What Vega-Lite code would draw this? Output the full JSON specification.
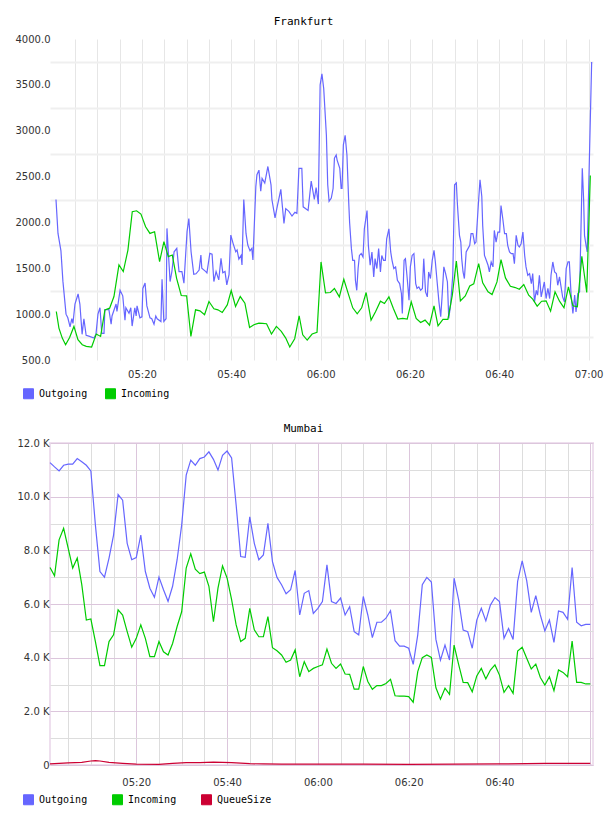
{
  "$schema": "https://vega.github.io/schema/vega-lite/v6.json",
  "background": "white",
  "padding": {"left": 15, "top": 16, "right": 5, "bottom": 5},
  "config": {
    "view": {"stroke": null},
    "axis": {"labelFont": "DejaVu Sans", "labelFontSize": 10, "labelColor": "#333333", "ticks": false, "tickSize": 0, "domain": false, "labelOverlap": false, "labelFlush": false, "labelBound": false},
    "legend": {"orient": "none", "direction": "horizontal", "symbolType": "square", "symbolSize": 100, "labelFont": "DejaVu Sans Mono", "labelFontSize": 10, "labelColor": "#000000", "labelOffset": 5, "padding": 0},
    "title": {"font": "DejaVu Sans Mono", "fontSize": 11, "fontWeight": "normal", "color": "#000000", "anchor": "middle", "frame": "group", "baseline": "alphabetic"}
  },
  "datasets": {
    "frankfurt": [
      {"min":0.75,"series":"Outgoing","value":2250},{"min":1.2,"series":"Outgoing","value":1880},{"min":1.86,"series":"Outgoing","value":1690},{"min":2.3,"series":"Outgoing","value":1360},{"min":3.0,"series":"Outgoing","value":1000},{"min":3.4,"series":"Outgoing","value":960},{"min":3.9,"series":"Outgoing","value":860},{"min":4.3,"series":"Outgoing","value":950},{"min":4.55,"series":"Outgoing","value":900},{"min":5.0,"series":"Outgoing","value":1110},{"min":5.7,"series":"Outgoing","value":1220},{"min":6.1,"series":"Outgoing","value":1110},{"min":6.6,"series":"Outgoing","value":780},{"min":7.0,"series":"Outgoing","value":950},{"min":7.5,"series":"Outgoing","value":770},{"min":8.1,"series":"Outgoing","value":760},{"min":9.25,"series":"Outgoing","value":740},{"min":9.7,"series":"Outgoing","value":780},{"min":10.15,"series":"Outgoing","value":1000},{"min":10.6,"series":"Outgoing","value":1070},{"min":11.0,"series":"Outgoing","value":790},{"min":11.5,"series":"Outgoing","value":790},{"min":11.7,"series":"Outgoing","value":1050},{"min":12.6,"series":"Outgoing","value":1050},{"min":13.1,"series":"Outgoing","value":890},{"min":13.3,"series":"Outgoing","value":980},{"min":14.2,"series":"Outgoing","value":1110},{"min":14.4,"series":"Outgoing","value":1030},{"min":15.1,"series":"Outgoing","value":1260},{"min":15.7,"series":"Outgoing","value":1200},{"min":16.2,"series":"Outgoing","value":935},{"min":16.4,"series":"Outgoing","value":1070},{"min":17.1,"series":"Outgoing","value":1010},{"min":17.5,"series":"Outgoing","value":1070},{"min":17.8,"series":"Outgoing","value":870},{"min":18.4,"series":"Outgoing","value":1070},{"min":18.7,"series":"Outgoing","value":980},{"min":18.9,"series":"Outgoing","value":1090},{"min":19.55,"series":"Outgoing","value":960},{"min":20.0,"series":"Outgoing","value":970},{"min":20.2,"series":"Outgoing","value":1280},{"min":20.7,"series":"Outgoing","value":1340},{"min":21.1,"series":"Outgoing","value":1090},{"min":21.8,"series":"Outgoing","value":960},{"min":22.2,"series":"Outgoing","value":950},{"min":22.7,"series":"Outgoing","value":890},{"min":23.1,"series":"Outgoing","value":980},{"min":23.4,"series":"Outgoing","value":950},{"min":24.25,"series":"Outgoing","value":920},{"min":24.5,"series":"Outgoing","value":1380},{"min":24.9,"series":"Outgoing","value":920},{"min":25.4,"series":"Outgoing","value":950},{"min":25.6,"series":"Outgoing","value":1935},{"min":26.3,"series":"Outgoing","value":1355},{"min":26.7,"series":"Outgoing","value":1464},{"min":27.2,"series":"Outgoing","value":1680},{"min":27.8,"series":"Outgoing","value":1717},{"min":28.3,"series":"Outgoing","value":1464},{"min":28.95,"series":"Outgoing","value":1464},{"min":29.4,"series":"Outgoing","value":1337},{"min":30.1,"series":"Outgoing","value":1900},{"min":30.5,"series":"Outgoing","value":2043},{"min":31.0,"series":"Outgoing","value":1680},{"min":31.6,"series":"Outgoing","value":1435},{"min":32.1,"series":"Outgoing","value":1440},{"min":32.8,"series":"Outgoing","value":1480},{"min":33.2,"series":"Outgoing","value":1645},{"min":33.4,"series":"Outgoing","value":1500},{"min":34.3,"series":"Outgoing","value":1464},{"min":34.55,"series":"Outgoing","value":1450},{"min":35.2,"series":"Outgoing","value":1663},{"min":35.7,"series":"Outgoing","value":1655},{"min":36.1,"series":"Outgoing","value":1355},{"min":36.6,"series":"Outgoing","value":1464},{"min":37.2,"series":"Outgoing","value":1373},{"min":37.7,"series":"Outgoing","value":1609},{"min":38.1,"series":"Outgoing","value":1450},{"min":38.6,"series":"Outgoing","value":1464},{"min":39.0,"series":"Outgoing","value":1319},{"min":39.5,"series":"Outgoing","value":1430},{"min":39.9,"series":"Outgoing","value":1862},{"min":40.4,"series":"Outgoing","value":1772},{"min":41.0,"series":"Outgoing","value":1680},{"min":41.3,"series":"Outgoing","value":1700},{"min":41.7,"series":"Outgoing","value":1600},{"min":42.2,"series":"Outgoing","value":1640},{"min":42.4,"series":"Outgoing","value":1536},{"min":42.8,"series":"Outgoing","value":2250},{"min":43.3,"series":"Outgoing","value":1880},{"min":43.7,"series":"Outgoing","value":1754},{"min":44.2,"series":"Outgoing","value":1690},{"min":44.6,"series":"Outgoing","value":1717},{"min":44.85,"series":"Outgoing","value":1590},{"min":45.5,"series":"Outgoing","value":2390},{"min":45.75,"series":"Outgoing","value":2520},{"min":46.2,"series":"Outgoing","value":2570},{"min":46.6,"series":"Outgoing","value":2340},{"min":46.9,"series":"Outgoing","value":2480},{"min":47.5,"series":"Outgoing","value":2430},{"min":48.0,"series":"Outgoing","value":2560},{"min":48.2,"series":"Outgoing","value":2610},{"min":48.9,"series":"Outgoing","value":2410},{"min":49.1,"series":"Outgoing","value":2250},{"min":49.8,"series":"Outgoing","value":2050},{"min":50.2,"series":"Outgoing","value":2150},{"min":51.1,"series":"Outgoing","value":2360},{"min":51.3,"series":"Outgoing","value":2250},{"min":51.8,"series":"Outgoing","value":1990},{"min":52.2,"series":"Outgoing","value":2150},{"min":52.9,"series":"Outgoing","value":2120},{"min":53.6,"series":"Outgoing","value":2070},{"min":54.25,"series":"Outgoing","value":2110},{"min":54.7,"series":"Outgoing","value":2100},{"min":55.15,"series":"Outgoing","value":2590},{"min":55.8,"series":"Outgoing","value":2590},{"min":56.1,"series":"Outgoing","value":2170},{"min":57.2,"series":"Outgoing","value":2130},{"min":57.9,"series":"Outgoing","value":2450},{"min":58.6,"series":"Outgoing","value":2250},{"min":59.0,"series":"Outgoing","value":2380},{"min":59.5,"series":"Outgoing","value":2200},{"min":59.9,"series":"Outgoing","value":3500},{"min":60.3,"series":"Outgoing","value":3620},{"min":60.7,"series":"Outgoing","value":3460},{"min":61.3,"series":"Outgoing","value":2950},{"min":61.6,"series":"Outgoing","value":2410},{"min":61.9,"series":"Outgoing","value":2230},{"min":62.4,"series":"Outgoing","value":2265},{"min":62.8,"series":"Outgoing","value":2370},{"min":63.1,"series":"Outgoing","value":2700},{"min":63.5,"series":"Outgoing","value":2735},{"min":63.7,"series":"Outgoing","value":2680},{"min":64.3,"series":"Outgoing","value":2590},{"min":64.6,"series":"Outgoing","value":2370},{"min":64.8,"series":"Outgoing","value":2370},{"min":65.1,"series":"Outgoing","value":2845},{"min":65.5,"series":"Outgoing","value":2950},{"min":65.9,"series":"Outgoing","value":2735},{"min":66.3,"series":"Outgoing","value":2220},{"min":66.5,"series":"Outgoing","value":2000},{"min":66.9,"series":"Outgoing","value":1714},{"min":67.2,"series":"Outgoing","value":1587},{"min":67.6,"series":"Outgoing","value":1587},{"min":67.8,"series":"Outgoing","value":1370},{"min":68.1,"series":"Outgoing","value":1260},{"min":68.4,"series":"Outgoing","value":1497},{"min":68.7,"series":"Outgoing","value":1640},{"min":69.1,"series":"Outgoing","value":1660},{"min":69.5,"series":"Outgoing","value":1623},{"min":69.8,"series":"Outgoing","value":1930},{"min":70.4,"series":"Outgoing","value":2130},{"min":70.7,"series":"Outgoing","value":1750},{"min":71.1,"series":"Outgoing","value":1533},{"min":71.5,"series":"Outgoing","value":1678},{"min":71.9,"series":"Outgoing","value":1406},{"min":72.2,"series":"Outgoing","value":1605},{"min":72.6,"series":"Outgoing","value":1497},{"min":73.0,"series":"Outgoing","value":1714},{"min":73.4,"series":"Outgoing","value":1460},{"min":73.7,"series":"Outgoing","value":1640},{"min":74.1,"series":"Outgoing","value":1587},{"min":74.5,"series":"Outgoing","value":1587},{"min":74.8,"series":"Outgoing","value":1822},{"min":75.3,"series":"Outgoing","value":1930},{"min":75.7,"series":"Outgoing","value":1678},{"min":76.0,"series":"Outgoing","value":1587},{"min":76.4,"series":"Outgoing","value":1497},{"min":76.8,"series":"Outgoing","value":1515},{"min":77.2,"series":"Outgoing","value":1370},{"min":77.7,"series":"Outgoing","value":1333},{"min":78.1,"series":"Outgoing","value":1225},{"min":78.3,"series":"Outgoing","value":1007},{"min":78.7,"series":"Outgoing","value":1587},{"min":79.0,"series":"Outgoing","value":1605},{"min":79.4,"series":"Outgoing","value":1388},{"min":79.8,"series":"Outgoing","value":1152},{"min":80.1,"series":"Outgoing","value":1515},{"min":80.5,"series":"Outgoing","value":1640},{"min":80.9,"series":"Outgoing","value":1660},{"min":81.3,"series":"Outgoing","value":1333},{"min":81.6,"series":"Outgoing","value":1280},{"min":82.0,"series":"Outgoing","value":1297},{"min":82.4,"series":"Outgoing","value":1260},{"min":82.8,"series":"Outgoing","value":1280},{"min":83.1,"series":"Outgoing","value":1605},{"min":83.5,"series":"Outgoing","value":1243},{"min":83.9,"series":"Outgoing","value":1188},{"min":84.2,"series":"Outgoing","value":1460},{"min":84.6,"series":"Outgoing","value":1388},{"min":85.0,"series":"Outgoing","value":1587},{"min":85.4,"series":"Outgoing","value":1696},{"min":85.7,"series":"Outgoing","value":1569},{"min":86.1,"series":"Outgoing","value":1351},{"min":86.5,"series":"Outgoing","value":1134},{"min":86.9,"series":"Outgoing","value":971},{"min":87.2,"series":"Outgoing","value":1188},{"min":87.6,"series":"Outgoing","value":1515},{"min":88.0,"series":"Outgoing","value":1442},{"min":88.4,"series":"Outgoing","value":1351},{"min":88.7,"series":"Outgoing","value":953},{"min":89.1,"series":"Outgoing","value":1098},{"min":89.6,"series":"Outgoing","value":1424},{"min":90.0,"series":"Outgoing","value":2410},{"min":90.4,"series":"Outgoing","value":2430},{"min":90.6,"series":"Outgoing","value":2230},{"min":90.75,"series":"Outgoing","value":2112},{"min":91.1,"series":"Outgoing","value":1859},{"min":91.4,"series":"Outgoing","value":1786},{"min":91.6,"series":"Outgoing","value":1605},{"min":91.9,"series":"Outgoing","value":1460},{"min":92.2,"series":"Outgoing","value":1388},{"min":92.6,"series":"Outgoing","value":1678},{"min":93.0,"series":"Outgoing","value":1714},{"min":93.4,"series":"Outgoing","value":1750},{"min":93.7,"series":"Outgoing","value":1877},{"min":94.1,"series":"Outgoing","value":1877},{"min":94.5,"series":"Outgoing","value":1768},{"min":94.8,"series":"Outgoing","value":1786},{"min":95.4,"series":"Outgoing","value":2250},{"min":95.7,"series":"Outgoing","value":2464},{"min":96.1,"series":"Outgoing","value":2283},{"min":96.3,"series":"Outgoing","value":1967},{"min":96.7,"series":"Outgoing","value":1640},{"min":97.1,"series":"Outgoing","value":1587},{"min":97.5,"series":"Outgoing","value":1533},{"min":97.8,"series":"Outgoing","value":1460},{"min":98.2,"series":"Outgoing","value":1569},{"min":98.6,"series":"Outgoing","value":1515},{"min":98.9,"series":"Outgoing","value":1913},{"min":99.3,"series":"Outgoing","value":1786},{"min":99.7,"series":"Outgoing","value":1895},{"min":100.1,"series":"Outgoing","value":1895},{"min":100.4,"series":"Outgoing","value":2185},{"min":100.8,"series":"Outgoing","value":2040},{"min":101.2,"series":"Outgoing","value":1877},{"min":101.6,"series":"Outgoing","value":1877},{"min":101.9,"series":"Outgoing","value":1750},{"min":102.3,"series":"Outgoing","value":1678},{"min":102.7,"series":"Outgoing","value":1660},{"min":103.1,"series":"Outgoing","value":1660},{"min":103.4,"series":"Outgoing","value":1551},{"min":103.8,"series":"Outgoing","value":1859},{"min":104.2,"series":"Outgoing","value":1750},{"min":104.5,"series":"Outgoing","value":1732},{"min":104.9,"series":"Outgoing","value":1768},{"min":105.3,"series":"Outgoing","value":1895},{"min":105.7,"series":"Outgoing","value":1640},{"min":106.0,"series":"Outgoing","value":1515},{"min":106.4,"series":"Outgoing","value":1424},{"min":106.8,"series":"Outgoing","value":1442},{"min":107.2,"series":"Outgoing","value":1333},{"min":107.5,"series":"Outgoing","value":1442},{"min":107.9,"series":"Outgoing","value":1134},{"min":108.3,"series":"Outgoing","value":1260},{"min":108.6,"series":"Outgoing","value":1207},{"min":109.0,"series":"Outgoing","value":1424},{"min":109.4,"series":"Outgoing","value":1188},{"min":109.8,"series":"Outgoing","value":1280},{"min":110.1,"series":"Outgoing","value":1351},{"min":110.5,"series":"Outgoing","value":1170},{"min":110.9,"series":"Outgoing","value":1280},{"min":111.3,"series":"Outgoing","value":1170},{"min":111.6,"series":"Outgoing","value":1424},{"min":112.0,"series":"Outgoing","value":1569},{"min":112.4,"series":"Outgoing","value":1460},{"min":112.8,"series":"Outgoing","value":1442},{"min":113.1,"series":"Outgoing","value":1315},{"min":113.5,"series":"Outgoing","value":1406},{"min":113.9,"series":"Outgoing","value":1280},{"min":114.2,"series":"Outgoing","value":1188},{"min":114.6,"series":"Outgoing","value":1134},{"min":115.0,"series":"Outgoing","value":1497},{"min":115.4,"series":"Outgoing","value":1569},{"min":115.7,"series":"Outgoing","value":1569},{"min":116.1,"series":"Outgoing","value":1207},{"min":116.5,"series":"Outgoing","value":1007},{"min":116.9,"series":"Outgoing","value":1207},{"min":117.2,"series":"Outgoing","value":1025},{"min":117.6,"series":"Outgoing","value":1225},{"min":118.0,"series":"Outgoing","value":1243},{"min":118.6,"series":"Outgoing","value":2590},{"min":118.9,"series":"Outgoing","value":2250},{"min":119.1,"series":"Outgoing","value":1859},{"min":119.5,"series":"Outgoing","value":1732},{"min":119.7,"series":"Outgoing","value":1678},{"min":120.7,"series":"Outgoing","value":3750},
      {"min":0.82,"series":"Incoming","value":1029},{"min":1.41,"series":"Incoming","value":848},{"min":2.16,"series":"Incoming","value":739},{"min":2.9,"series":"Incoming","value":667},{"min":3.8,"series":"Incoming","value":746},{"min":4.77,"series":"Incoming","value":866},{"min":5.67,"series":"Incoming","value":721},{"min":6.64,"series":"Incoming","value":667},{"min":7.53,"series":"Incoming","value":649},{"min":8.73,"series":"Incoming","value":641},{"min":9.77,"series":"Incoming","value":783},{"min":10.74,"series":"Incoming","value":757},{"min":11.71,"series":"Incoming","value":1047},{"min":12.76,"series":"Incoming","value":1065},{"min":13.73,"series":"Incoming","value":1192},{"min":14.85,"series":"Incoming","value":1536},{"min":15.82,"series":"Incoming","value":1464},{"min":16.86,"series":"Incoming","value":1699},{"min":17.83,"series":"Incoming","value":2116},{"min":18.8,"series":"Incoming","value":2127},{"min":19.77,"series":"Incoming","value":2091},{"min":20.82,"series":"Incoming","value":1953},{"min":21.79,"series":"Incoming","value":1880},{"min":22.83,"series":"Incoming","value":1898},{"min":23.95,"series":"Incoming","value":1572},{"min":24.92,"series":"Incoming","value":1790},{"min":25.89,"series":"Incoming","value":1627},{"min":26.79,"series":"Incoming","value":1645},{"min":27.76,"series":"Incoming","value":1391},{"min":28.8,"series":"Incoming","value":1203},{"min":30.0,"series":"Incoming","value":1200},{"min":30.96,"series":"Incoming","value":757},{"min":32.0,"series":"Incoming","value":1047},{"min":32.98,"series":"Incoming","value":1036},{"min":34.02,"series":"Incoming","value":993},{"min":35.0,"series":"Incoming","value":1138},{"min":36.11,"series":"Incoming","value":1058},{"min":37.01,"series":"Incoming","value":1047},{"min":37.98,"series":"Incoming","value":1018},{"min":39.1,"series":"Incoming","value":1101},{"min":39.99,"series":"Incoming","value":1257},{"min":40.96,"series":"Incoming","value":1083},{"min":42.01,"series":"Incoming","value":1192},{"min":43.05,"series":"Incoming","value":1120},{"min":44.1,"series":"Incoming","value":855},{"min":45.07,"series":"Incoming","value":884},{"min":46.19,"series":"Incoming","value":902},{"min":47.0,"series":"Incoming","value":900},{"min":47.9,"series":"Incoming","value":895},{"min":49.0,"series":"Incoming","value":783},{"min":50.1,"series":"Incoming","value":866},{"min":51.2,"series":"Incoming","value":812},{"min":52.2,"series":"Incoming","value":739},{"min":53.1,"series":"Incoming","value":641},{"min":54.2,"series":"Incoming","value":732},{"min":55.2,"series":"Incoming","value":982},{"min":56.0,"series":"Incoming","value":775},{"min":57.0,"series":"Incoming","value":717},{"min":58.1,"series":"Incoming","value":783},{"min":59.2,"series":"Incoming","value":801},{"min":60.1,"series":"Incoming","value":1569},{"min":61.1,"series":"Incoming","value":1232},{"min":62.2,"series":"Incoming","value":1236},{"min":63.1,"series":"Incoming","value":1279},{"min":64.2,"series":"Incoming","value":1188},{"min":65.2,"series":"Incoming","value":1380},{"min":66.3,"series":"Incoming","value":1207},{"min":67.2,"series":"Incoming","value":1069},{"min":68.2,"series":"Incoming","value":1004},{"min":69.2,"series":"Incoming","value":1069},{"min":70.2,"series":"Incoming","value":1236},{"min":71.3,"series":"Incoming","value":935},{"min":72.3,"series":"Incoming","value":1025},{"min":73.4,"series":"Incoming","value":1141},{"min":74.3,"series":"Incoming","value":1116},{"min":75.3,"series":"Incoming","value":1188},{"min":76.3,"series":"Incoming","value":1062},{"min":77.3,"series":"Incoming","value":946},{"min":78.4,"series":"Incoming","value":953},{"min":79.4,"series":"Incoming","value":946},{"min":80.3,"series":"Incoming","value":1134},{"min":81.4,"series":"Incoming","value":953},{"min":82.4,"series":"Incoming","value":909},{"min":83.4,"series":"Incoming","value":935},{"min":84.4,"series":"Incoming","value":880},{"min":85.4,"series":"Incoming","value":1091},{"min":86.3,"series":"Incoming","value":873},{"min":87.4,"series":"Incoming","value":942},{"min":88.5,"series":"Incoming","value":942},{"min":89.5,"series":"Incoming","value":1207},{"min":90.4,"series":"Incoming","value":1580},{"min":91.3,"series":"Incoming","value":1145},{"min":92.4,"series":"Incoming","value":1199},{"min":93.4,"series":"Incoming","value":1308},{"min":94.3,"series":"Incoming","value":1330},{"min":95.4,"series":"Incoming","value":1551},{"min":96.3,"series":"Incoming","value":1341},{"min":97.5,"series":"Incoming","value":1243},{"min":98.4,"series":"Incoming","value":1214},{"min":99.5,"series":"Incoming","value":1351},{"min":100.4,"series":"Incoming","value":1594},{"min":101.4,"series":"Incoming","value":1395},{"min":102.5,"series":"Incoming","value":1304},{"min":103.6,"series":"Incoming","value":1290},{"min":104.5,"series":"Incoming","value":1272},{"min":105.5,"series":"Incoming","value":1322},{"min":106.6,"series":"Incoming","value":1207},{"min":107.5,"series":"Incoming","value":1163},{"min":108.5,"series":"Incoming","value":1087},{"min":109.5,"series":"Incoming","value":1141},{"min":110.5,"series":"Incoming","value":1145},{"min":111.5,"series":"Incoming","value":1033},{"min":112.5,"series":"Incoming","value":1243},{"min":113.5,"series":"Incoming","value":1141},{"min":114.5,"series":"Incoming","value":1069},{"min":115.5,"series":"Incoming","value":1297},{"min":116.5,"series":"Incoming","value":1091},{"min":117.5,"series":"Incoming","value":1080},{"min":118.5,"series":"Incoming","value":1630},{"min":119.6,"series":"Incoming","value":1236},{"min":120.4,"series":"Incoming","value":2511}
    ],
    "mumbai": [
      {"min":1,"series":"Outgoing","value":11270},{"min":2,"series":"Outgoing","value":11110},{"min":3,"series":"Outgoing","value":10960},{"min":4,"series":"Outgoing","value":11170},{"min":5,"series":"Outgoing","value":11210},{"min":6,"series":"Outgoing","value":11210},{"min":7,"series":"Outgoing","value":11420},{"min":8,"series":"Outgoing","value":11300},{"min":9,"series":"Outgoing","value":11170},{"min":10,"series":"Outgoing","value":10960},{"min":11,"series":"Outgoing","value":8940},{"min":12,"series":"Outgoing","value":7210},{"min":13,"series":"Outgoing","value":7000},{"min":14,"series":"Outgoing","value":7710},{"min":15,"series":"Outgoing","value":8570},{"min":16,"series":"Outgoing","value":10080},{"min":17,"series":"Outgoing","value":9870},{"min":18,"series":"Outgoing","value":8260},{"min":19,"series":"Outgoing","value":7650},{"min":20,"series":"Outgoing","value":7730},{"min":21,"series":"Outgoing","value":8570},{"min":22,"series":"Outgoing","value":7210},{"min":23,"series":"Outgoing","value":6590},{"min":24,"series":"Outgoing","value":6250},{"min":25,"series":"Outgoing","value":7000},{"min":26,"series":"Outgoing","value":6530},{"min":27,"series":"Outgoing","value":6100},{"min":28,"series":"Outgoing","value":6660},{"min":29,"series":"Outgoing","value":7650},{"min":30,"series":"Outgoing","value":8940},{"min":31,"series":"Outgoing","value":10800},{"min":32,"series":"Outgoing","value":11360},{"min":33,"series":"Outgoing","value":11170},{"min":34,"series":"Outgoing","value":11420},{"min":35,"series":"Outgoing","value":11480},{"min":36,"series":"Outgoing","value":11670},{"min":37,"series":"Outgoing","value":11390},{"min":38,"series":"Outgoing","value":10990},{"min":39,"series":"Outgoing","value":11540},{"min":40,"series":"Outgoing","value":11700},{"min":41,"series":"Outgoing","value":11440},{"min":42,"series":"Outgoing","value":9690},{"min":43,"series":"Outgoing","value":7770},{"min":44,"series":"Outgoing","value":7740},{"min":45,"series":"Outgoing","value":9250},{"min":46,"series":"Outgoing","value":8260},{"min":47,"series":"Outgoing","value":7650},{"min":48,"series":"Outgoing","value":7830},{"min":49,"series":"Outgoing","value":9010},{"min":50,"series":"Outgoing","value":7580},{"min":51,"series":"Outgoing","value":6990},{"min":52,"series":"Outgoing","value":6720},{"min":53,"series":"Outgoing","value":6380},{"min":54,"series":"Outgoing","value":6530},{"min":55,"series":"Outgoing","value":7250},{"min":56,"series":"Outgoing","value":5590},{"min":57,"series":"Outgoing","value":6400},{"min":58,"series":"Outgoing","value":6500},{"min":59,"series":"Outgoing","value":5650},{"min":60,"series":"Outgoing","value":5840},{"min":61,"series":"Outgoing","value":6090},{"min":62,"series":"Outgoing","value":7460},{"min":63,"series":"Outgoing","value":6090},{"min":64,"series":"Outgoing","value":6020},{"min":65,"series":"Outgoing","value":6220},{"min":66,"series":"Outgoing","value":5590},{"min":67,"series":"Outgoing","value":5900},{"min":68,"series":"Outgoing","value":4970},{"min":69,"series":"Outgoing","value":4850},{"min":70,"series":"Outgoing","value":6280},{"min":71,"series":"Outgoing","value":5590},{"min":72,"series":"Outgoing","value":4750},{"min":73,"series":"Outgoing","value":5320},{"min":74,"series":"Outgoing","value":5320},{"min":75,"series":"Outgoing","value":5470},{"min":76,"series":"Outgoing","value":5750},{"min":77,"series":"Outgoing","value":4630},{"min":78,"series":"Outgoing","value":4430},{"min":79,"series":"Outgoing","value":4430},{"min":80,"series":"Outgoing","value":4350},{"min":81,"series":"Outgoing","value":3750},{"min":82,"series":"Outgoing","value":4850},{"min":83,"series":"Outgoing","value":6720},{"min":84,"series":"Outgoing","value":6990},{"min":85,"series":"Outgoing","value":6820},{"min":86,"series":"Outgoing","value":4680},{"min":87,"series":"Outgoing","value":3910},{"min":88,"series":"Outgoing","value":4470},{"min":89,"series":"Outgoing","value":3910},{"min":90,"series":"Outgoing","value":6960},{"min":91,"series":"Outgoing","value":6160},{"min":92,"series":"Outgoing","value":5030},{"min":93,"series":"Outgoing","value":4970},{"min":94,"series":"Outgoing","value":4350},{"min":95,"series":"Outgoing","value":5400},{"min":96,"series":"Outgoing","value":5840},{"min":97,"series":"Outgoing","value":5370},{"min":98,"series":"Outgoing","value":5960},{"min":99,"series":"Outgoing","value":6240},{"min":100,"series":"Outgoing","value":6090},{"min":101,"series":"Outgoing","value":4720},{"min":102,"series":"Outgoing","value":5090},{"min":103,"series":"Outgoing","value":4680},{"min":104,"series":"Outgoing","value":6840},{"min":105,"series":"Outgoing","value":7610},{"min":106,"series":"Outgoing","value":6870},{"min":107,"series":"Outgoing","value":5690},{"min":108,"series":"Outgoing","value":6310},{"min":109,"series":"Outgoing","value":5590},{"min":110,"series":"Outgoing","value":5000},{"min":111,"series":"Outgoing","value":5400},{"min":112,"series":"Outgoing","value":4570},{"min":113,"series":"Outgoing","value":5740},{"min":114,"series":"Outgoing","value":5690},{"min":115,"series":"Outgoing","value":5430},{"min":116,"series":"Outgoing","value":7360},{"min":117,"series":"Outgoing","value":5320},{"min":118,"series":"Outgoing","value":5190},{"min":119,"series":"Outgoing","value":5240},{"min":120,"series":"Outgoing","value":5240},
      {"min":1,"series":"Incoming","value":7360},{"min":2,"series":"Incoming","value":7050},{"min":3,"series":"Incoming","value":8390},{"min":4,"series":"Incoming","value":8820},{"min":5,"series":"Incoming","value":8080},{"min":6,"series":"Incoming","value":7340},{"min":7,"series":"Incoming","value":7710},{"min":8,"series":"Incoming","value":6720},{"min":9,"series":"Incoming","value":5400},{"min":10,"series":"Incoming","value":5440},{"min":11,"series":"Incoming","value":4600},{"min":12,"series":"Incoming","value":3700},{"min":13,"series":"Incoming","value":3700},{"min":14,"series":"Incoming","value":4600},{"min":15,"series":"Incoming","value":4850},{"min":16,"series":"Incoming","value":5780},{"min":17,"series":"Incoming","value":5590},{"min":18,"series":"Incoming","value":4970},{"min":19,"series":"Incoming","value":4390},{"min":20,"series":"Incoming","value":4720},{"min":21,"series":"Incoming","value":5220},{"min":22,"series":"Incoming","value":4720},{"min":23,"series":"Incoming","value":4040},{"min":24,"series":"Incoming","value":4040},{"min":25,"series":"Incoming","value":4600},{"min":26,"series":"Incoming","value":4220},{"min":27,"series":"Incoming","value":4100},{"min":28,"series":"Incoming","value":4530},{"min":29,"series":"Incoming","value":5160},{"min":30,"series":"Incoming","value":5710},{"min":31,"series":"Incoming","value":7340},{"min":32,"series":"Incoming","value":7870},{"min":33,"series":"Incoming","value":7300},{"min":34,"series":"Incoming","value":7130},{"min":35,"series":"Incoming","value":7190},{"min":36,"series":"Incoming","value":6660},{"min":37,"series":"Incoming","value":5340},{"min":38,"series":"Incoming","value":6590},{"min":39,"series":"Incoming","value":7420},{"min":40,"series":"Incoming","value":6970},{"min":41,"series":"Incoming","value":6160},{"min":42,"series":"Incoming","value":5220},{"min":43,"series":"Incoming","value":4600},{"min":44,"series":"Incoming","value":4720},{"min":45,"series":"Incoming","value":5840},{"min":46,"series":"Incoming","value":5040},{"min":47,"series":"Incoming","value":4780},{"min":48,"series":"Incoming","value":4780},{"min":49,"series":"Incoming","value":5530},{"min":50,"series":"Incoming","value":4370},{"min":51,"series":"Incoming","value":4260},{"min":52,"series":"Incoming","value":4100},{"min":53,"series":"Incoming","value":3830},{"min":54,"series":"Incoming","value":3910},{"min":55,"series":"Incoming","value":4290},{"min":56,"series":"Incoming","value":3290},{"min":57,"series":"Incoming","value":3850},{"min":58,"series":"Incoming","value":3480},{"min":59,"series":"Incoming","value":3600},{"min":60,"series":"Incoming","value":3670},{"min":61,"series":"Incoming","value":3730},{"min":62,"series":"Incoming","value":4320},{"min":63,"series":"Incoming","value":3790},{"min":64,"series":"Incoming","value":3600},{"min":65,"series":"Incoming","value":3760},{"min":66,"series":"Incoming","value":3390},{"min":67,"series":"Incoming","value":3380},{"min":68,"series":"Incoming","value":2830},{"min":69,"series":"Incoming","value":2830},{"min":70,"series":"Incoming","value":3670},{"min":71,"series":"Incoming","value":3110},{"min":72,"series":"Incoming","value":2820},{"min":73,"series":"Incoming","value":2960},{"min":74,"series":"Incoming","value":2960},{"min":75,"series":"Incoming","value":3040},{"min":76,"series":"Incoming","value":3190},{"min":77,"series":"Incoming","value":2580},{"min":78,"series":"Incoming","value":2570},{"min":79,"series":"Incoming","value":2570},{"min":80,"series":"Incoming","value":2550},{"min":81,"series":"Incoming","value":2340},{"min":82,"series":"Incoming","value":3480},{"min":83,"series":"Incoming","value":4000},{"min":84,"series":"Incoming","value":4100},{"min":85,"series":"Incoming","value":4010},{"min":86,"series":"Incoming","value":2880},{"min":87,"series":"Incoming","value":2450},{"min":88,"series":"Incoming","value":2860},{"min":89,"series":"Incoming","value":2630},{"min":90,"series":"Incoming","value":4470},{"min":91,"series":"Incoming","value":3750},{"min":92,"series":"Incoming","value":3080},{"min":93,"series":"Incoming","value":3070},{"min":94,"series":"Incoming","value":2730},{"min":95,"series":"Incoming","value":3320},{"min":96,"series":"Incoming","value":3600},{"min":97,"series":"Incoming","value":3210},{"min":98,"series":"Incoming","value":3540},{"min":99,"series":"Incoming","value":3730},{"min":100,"series":"Incoming","value":3350},{"min":101,"series":"Incoming","value":2710},{"min":102,"series":"Incoming","value":2960},{"min":103,"series":"Incoming","value":2670},{"min":104,"series":"Incoming","value":4250},{"min":105,"series":"Incoming","value":4390},{"min":106,"series":"Incoming","value":3980},{"min":107,"series":"Incoming","value":3580},{"min":108,"series":"Incoming","value":3760},{"min":109,"series":"Incoming","value":3260},{"min":110,"series":"Incoming","value":2980},{"min":111,"series":"Incoming","value":3290},{"min":112,"series":"Incoming","value":2770},{"min":113,"series":"Incoming","value":3540},{"min":114,"series":"Incoming","value":3450},{"min":115,"series":"Incoming","value":3290},{"min":116,"series":"Incoming","value":4620},{"min":117,"series":"Incoming","value":3080},{"min":118,"series":"Incoming","value":3080},{"min":119,"series":"Incoming","value":3020},{"min":120,"series":"Incoming","value":3020},
      {"min":1,"series":"QueueSize","value":40},{"min":5,"series":"QueueSize","value":80},{"min":8,"series":"QueueSize","value":100},{"min":10,"series":"QueueSize","value":150},{"min":11,"series":"QueueSize","value":160},{"min":12,"series":"QueueSize","value":150},{"min":14,"series":"QueueSize","value":100},{"min":17,"series":"QueueSize","value":60},{"min":20,"series":"QueueSize","value":30},{"min":25,"series":"QueueSize","value":20},{"min":28,"series":"QueueSize","value":60},{"min":31,"series":"QueueSize","value":90},{"min":34,"series":"QueueSize","value":90},{"min":37,"series":"QueueSize","value":110},{"min":41,"series":"QueueSize","value":90},{"min":45,"series":"QueueSize","value":50},{"min":48,"series":"QueueSize","value":40},{"min":52,"series":"QueueSize","value":30},{"min":56,"series":"QueueSize","value":30},{"min":60,"series":"QueueSize","value":30},{"min":70,"series":"QueueSize","value":30},{"min":80,"series":"QueueSize","value":20},{"min":90,"series":"QueueSize","value":30},{"min":100,"series":"QueueSize","value":40},{"min":110,"series":"QueueSize","value":60},{"min":120,"series":"QueueSize","value":60}
    ]
  },
  "concat": [
    {
      "width": 543,
      "height": 321,
      "title": {"text": "Frankfurt", "dx": -18, "offset": 7},
      "data": {"name": "frankfurt"},
      "mark": {"type": "line", "strokeWidth": 1.2},
      "encoding": {
        "x": {
          "field": "min", "type": "quantitative",
          "scale": {"domain": [-0.59, 121], "nice": false, "zero": false},
          "axis": {
            "title": null,
            "values": [5,10,15,20,25,30,35,40,45,50,55,60,65,70,75,80,85,90,95,100,105,110,115,120],
            "labelExpr": "datum.value % 20 === 0 ? '0' + (5 + floor(datum.value / 60)) + ':' + (datum.value % 60 === 0 ? '00' : '' + (datum.value % 60)) : ''",
            "labelPadding": 9,
            "gridColor": "#e6e6e6",
            "gridWidth": 1
          }
        },
        "y": {
          "field": "value", "type": "quantitative",
          "scale": {"domain": [500, 4000], "nice": false, "zero": false},
          "axis": {
            "title": null,
            "values": [500,750,1000,1250,1500,1750,2000,2250,2500,2750,3000,3250,3500,3750,4000],
            "labelExpr": "datum.value % 500 === 0 ? format(datum.value, '.1f') : ''",
            "labelPadding": 0,
            "gridColor": {"condition": {"test": "datum.value % 500 === 0", "value": "transparent"}, "value": "#efefef"},
            "gridWidth": 2
          }
        },
        "color": {
          "field": "series", "type": "nominal",
          "scale": {"domain": ["Outgoing", "Incoming"], "range": ["#6666ff", "#00cc00"]},
          "legend": {
            "title": null, "legendX": -27, "legendY": 349, "columnPadding": 15,
            "encode": {"symbols": {"update": {
              "fill": [{"test": "datum.value === 'Outgoing'", "value": "#6666ff"}, {"value": "#00cc00"}],
              "stroke": {"value": "#999999"}, "strokeWidth": {"value": 1}, "fillOpacity": {"value": 1}, "opacity": {"value": 1}
            }}}
          }
        }
      }
    },
    {
      "width": 543,
      "height": 322,
      "title": {"text": "Mumbai", "dx": -18, "offset": 4},
      "view": {"stroke": "#eedfee", "strokeWidth": 2},
      "data": {"name": "mumbai"},
      "mark": {"type": "line", "strokeWidth": 1.2},
      "encoding": {
        "x": {
          "field": "min", "type": "quantitative",
          "scale": {"domain": [1, 120.6], "nice": false, "zero": false},
          "axis": {
            "title": null,
            "values": [5,10,15,20,25,30,35,40,45,50,55,60,65,70,75,80,85,90,95,100,105,110,115,120],
            "labelExpr": "datum.value % 20 === 0 && datum.value < 120 ? '0' + (5 + floor(datum.value / 60)) + ':' + (datum.value % 60 === 0 ? '00' : '' + (datum.value % 60)) : ''",
            "labelPadding": 12,
            "gridColor": {"condition": {"test": "datum.value % 20 === 0", "value": "#dcc6dc"}, "value": "#dddddd"},
            "gridWidth": 1
          }
        },
        "y": {
          "field": "value", "type": "quantitative",
          "scale": {"domain": [0, 12000], "nice": false, "zero": false},
          "axis": {
            "title": null,
            "values": [0,1000,2000,3000,4000,5000,6000,7000,8000,9000,10000,11000,12000],
            "labelExpr": "datum.value === 0 ? '0' : (datum.value % 2000 === 0 ? format(datum.value / 1000, '.1f') + ' K' : '')",
            "labelPadding": 1,
            "gridColor": {"condition": {"test": "datum.value % 2000 === 0", "value": "#dcc6dc"}, "value": "#dddddd"},
            "gridWidth": 1
          }
        },
        "color": {
          "field": "series", "type": "nominal",
          "scale": {"domain": ["Outgoing", "Incoming", "QueueSize"], "range": ["#6666ff", "#00cc00", "#cc0033"]},
          "legend": {
            "title": null, "legendX": -27, "legendY": 351, "columnPadding": 22,
            "encode": {"symbols": {"update": {
              "fill": [{"test": "datum.value === 'Outgoing'", "value": "#6666ff"}, {"test": "datum.value === 'Incoming'", "value": "#00cc00"}, {"value": "#cc0033"}],
              "stroke": {"value": "#999999"}, "strokeWidth": {"value": 1}, "fillOpacity": {"value": 1}, "opacity": {"value": 1}
            }}}
          }
        }
      }
    }
  ],
  "columns": 1,
  "align": "none",
  "bounds": "full",
  "spacing": 21,
  "resolve": {"scale": {"color": "independent", "x": "independent", "y": "independent"}, "legend": {"color": "independent"}}
}
